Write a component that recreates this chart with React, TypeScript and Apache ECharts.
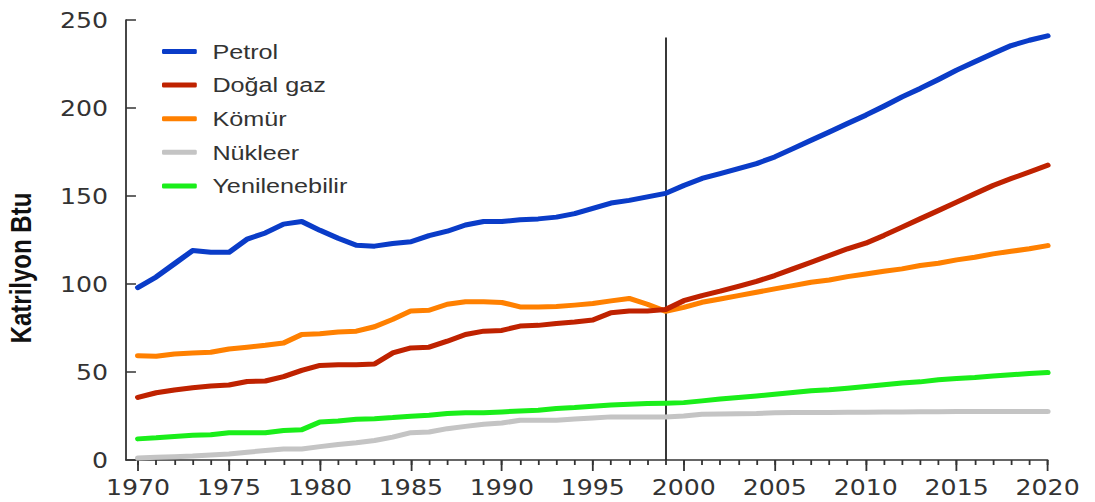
import React, { useEffect, useRef } from "react";
import * as echarts from "echarts";

const years: number[] = [
  1970, 1971, 1972, 1973, 1974, 1975, 1976, 1977, 1978, 1979,
  1980, 1981, 1982, 1983, 1984, 1985, 1986, 1987, 1988, 1989,
  1990, 1991, 1992, 1993, 1994, 1995, 1996, 1997, 1998, 1999,
  2000, 2001, 2002, 2003, 2004, 2005, 2006, 2007, 2008, 2009,
  2010, 2011, 2012, 2013, 2014, 2015, 2016, 2017, 2018, 2019, 2020,
];

const petrol: number[] = [
  98, 104, 111.5, 119, 118, 118, 125.5, 129, 134, 135.5,
  130.5, 126, 122, 121.5, 123, 124, 127.5, 130, 133.5, 135.5,
  135.5, 136.5, 137, 138, 140, 143, 146, 147.5, 149.5, 151.5,
  156, 160, 162.7, 165.5, 168.4, 172.2, 176.9, 181.7, 186.4, 191.2,
  195.9, 201, 206.3, 211.1, 216.2, 221.5, 226.3, 231, 235.5, 238.5, 241,
];

const dogalGaz: number[] = [
  35.6, 38.2, 39.8, 41.1, 42.1, 42.6, 44.6, 44.9, 47.4, 50.9,
  53.7, 54.1, 54.1, 54.5, 60.8, 63.7, 64.1, 67.5, 71.3, 73.2,
  73.6, 76.1, 76.5, 77.6, 78.4, 79.5, 83.7, 84.7, 84.7, 85.5,
  90.5, 93.4, 95.9, 98.7, 101.5, 104.8, 108.6, 112.4, 116.2, 120,
  123.2, 127.6, 132.3, 137.1, 141.8, 146.5, 151.3, 156, 159.9, 163.6, 167.5,
];

const komur: number[] = [
  59.3, 58.9, 60.2, 60.8, 61.2, 63.1, 64.1, 65.2, 66.5, 71.3,
  71.7, 72.7, 73.2, 75.7, 79.9, 84.7, 85.1, 88.5, 89.9, 89.9,
  89.5, 87, 87, 87.2, 88, 88.9, 90.4, 91.8, 88.5, 84.5,
  86.7, 89.6, 91.5, 93.4, 95.3, 97.2, 99.1, 101, 102.3, 104.2,
  105.7, 107.2, 108.6, 110.5, 111.8, 113.7, 115.2, 117.1, 118.6, 120, 121.8,
];

const nukleer: number[] = [
  1.1, 1.5, 1.9, 2.3, 2.9, 3.4, 4.4, 5.4, 6.3, 6.3,
  7.6, 8.8, 9.8, 11.1, 13, 15.5, 15.9, 17.8, 19.1, 20.3,
  21, 22.6, 22.6, 22.6, 23.3, 23.9, 24.5, 24.5, 24.5, 24.5,
  25, 26, 26.2, 26.3, 26.4, 26.8, 27, 27, 27, 27.1,
  27.2, 27.3, 27.3, 27.4, 27.4, 27.5, 27.5, 27.5, 27.5, 27.5, 27.5,
];

const yenilenebilir: number[] = [
  12, 12.6, 13.4, 14, 14.3, 15.5, 15.5, 15.5, 16.8, 17.2,
  21.6, 22.2, 23.1, 23.5, 24.1, 24.9, 25.4, 26.4, 26.8, 26.8,
  27.3, 27.9, 28.3, 29.3, 29.8, 30.6, 31.2, 31.7, 32.1, 32.3,
  32.6, 33.6, 34.6, 35.5, 36.4, 37.4, 38.3, 39.3, 39.9, 40.8,
  41.7, 42.7, 43.7, 44.4, 45.6, 46.3, 46.9, 47.7, 48.4, 49.1, 49.7,
];

const seriesNames: string[] = ["Petrol", "Doğal gaz", "Kömür", "Nükleer", "Yenilenebilir"];
const seriesColors: string[] = ["#0a3cc8", "#bf2200", "#ff8000", "#c4c4c4", "#1aee1a"];
const xLabelYears: number[] = [1970, 1975, 1980, 1985, 1990, 1995, 2000, 2005, 2010, 2015, 2020];
const yTicks: number[] = [0, 50, 100, 150, 200, 250];
const forecastStartYear = 1999;
const forecastLineTop = 240;
const yAxisName = "Katrilyon Btu";

const STRETCH = 1.2;
const W = 1095 / STRETCH;
const H = 502;

export default function App() {
  const ref = useRef<HTMLDivElement>(null);

  useEffect(() => {
    if (!ref.current) return;
    const chart = echarts.init(ref.current, undefined, { renderer: "svg" });
    const allSeries = [petrol, dogalGaz, komur, nukleer, yenilenebilir];
    const xMin = 1970 - 12 / 18.16;

    const series: any[] = allSeries.map((vals, i) => ({
      name: seriesNames[i],
      type: "line",
      xAxisIndex: 0,
      yAxisIndex: 0,
      data: years.map((y, k) => [y, vals[k]]),
      symbol: "none",
      showSymbol: false,
      lineStyle: { color: seriesColors[i], width: 5, cap: "round", join: "round" },
      itemStyle: { color: seriesColors[i] },
      z: 10 - i,
    }));
    series[0].markLine = {
      silent: true,
      symbol: ["none", "none"],
      label: { show: false },
      lineStyle: { color: "#222", width: 1.5, type: "solid" },
      data: [[{ coord: [forecastStartYear, 0] }, { coord: [forecastStartYear, forecastLineTop] }]],
    };

    chart.setOption({
      animation: false,
      backgroundColor: "#ffffff",
      grid: {
        left: 105,
        right: W - 872.5,
        top: 20,
        bottom: 42,
        containLabel: false,
        outerBoundsMode: "none",
      },
      graphic: [
        {
          type: "text",
          x: 18,
          y: 268,
          rotation: Math.PI / 2,
          style: {
            text: yAxisName,
            fontFamily: "Liberation Sans",
            fontWeight: "bold",
            fontSize: 24,
            fill: "#111",
            align: "center",
            verticalAlign: "middle",
          },
        },
      ],
      legend: {
        orient: "vertical",
        left: 135,
        top: 36,
        padding: 0,
        itemWidth: 29,
        itemHeight: 5,
        itemGap: 2.6,
        icon: "roundRect",
        data: seriesNames,
        textStyle: {
          fontFamily: "Liberation Sans",
          fontSize: 21,
          lineHeight: 21,
          color: "#333",
          padding: [0, 0, 10, 8],
        },
      },
      xAxis: [
        {
          type: "value",
          min: xMin,
          max: 2020,
          position: "bottom",
          axisLine: { show: true, onZero: false, lineStyle: { color: "#333", width: 1.5 } },
          axisTick: { show: true, inside: false, length: 5, customValues: years, lineStyle: { color: "#333", width: 1.5 } },
          axisLabel: {
            show: true,
            customValues: xLabelYears,
            margin: 17,
            fontFamily: "DejaVu Sans",
            fontSize: 21,
            color: "#333",
            formatter: (v: number) => String(Math.round(v)),
          },
          splitLine: { show: false },
        },
        {
          type: "value",
          min: xMin,
          max: 2020,
          position: "bottom",
          axisLine: { show: false },
          axisTick: { show: true, inside: false, length: 11, customValues: xLabelYears, lineStyle: { color: "#333", width: 1.5 } },
          axisLabel: { show: false },
          splitLine: { show: false },
        },
      ],
      yAxis: {
        type: "value",
        min: 0,
        max: 250,
        interval: 50,
        axisLine: { show: true, lineStyle: { color: "#333", width: 1.5 } },
        axisTick: { show: true, inside: true, length: 8.3, lineStyle: { color: "#333", width: 1.5 }, customValues: yTicks },
        axisLabel: { margin: 15, fontFamily: "DejaVu Sans", fontSize: 21, color: "#333", customValues: yTicks },
        splitLine: { show: false },
      },
      series,
    });
    return () => chart.dispose();
  }, []);

  return (
    <div
      ref={ref}
      style={{
        position: "absolute",
        left: 0,
        top: 0,
        width: W,
        height: H,
        transform: `scaleX(${STRETCH})`,
        transformOrigin: "0 0",
        background: "#fff",
      }}
    />
  );
}
